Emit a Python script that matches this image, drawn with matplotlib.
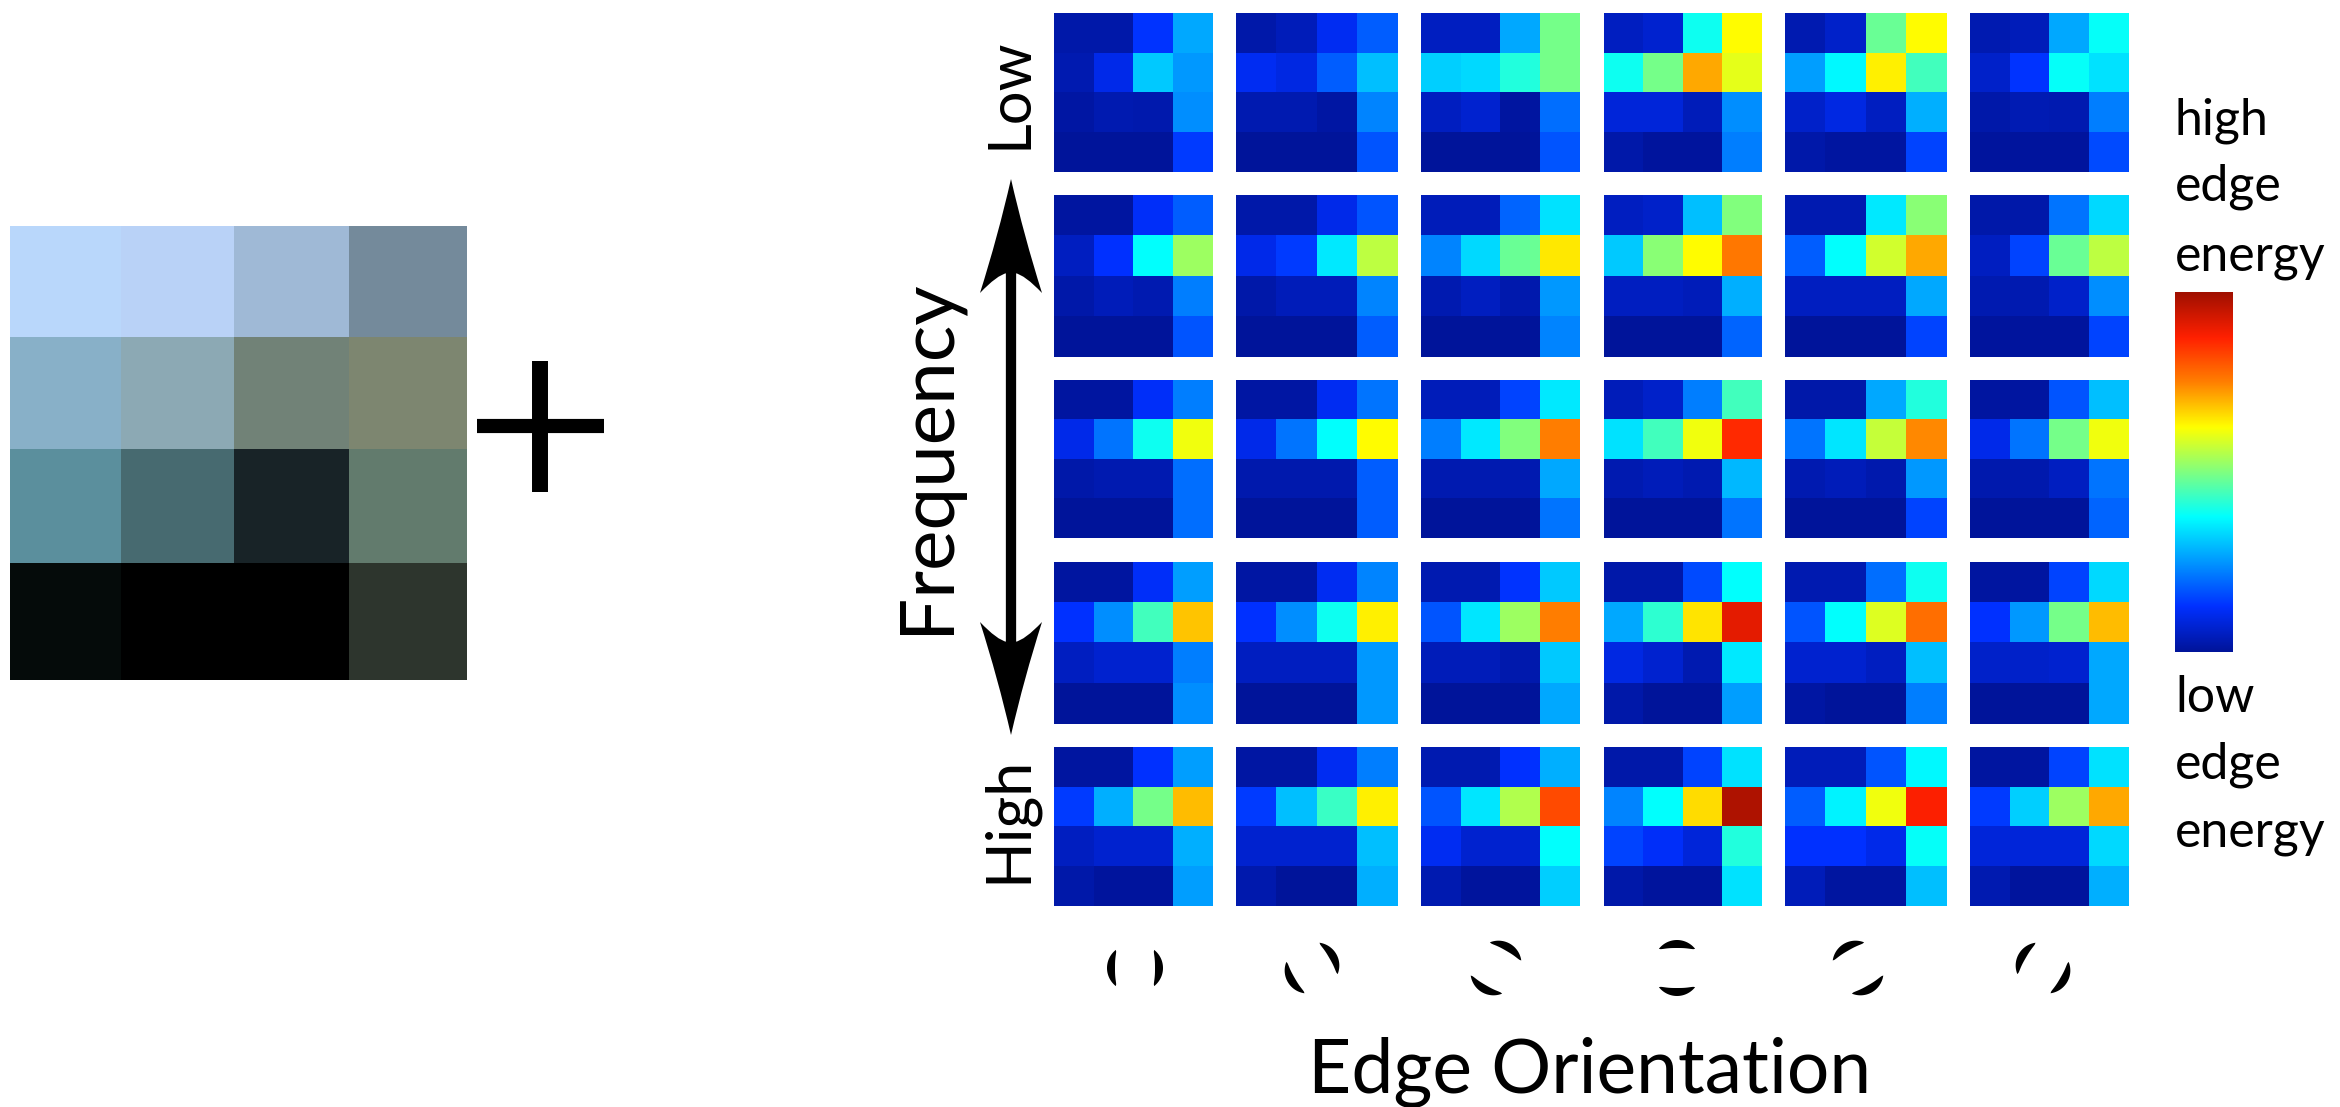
import matplotlib
matplotlib.use('Agg')
import matplotlib.pyplot as plt
import numpy as np
from matplotlib.colors import LinearSegmentedColormap, to_rgb
from matplotlib.path import Path
from matplotlib.patches import PathPatch, Polygon

plt.rcParams['font.family'] = ['Lato', 'DejaVu Sans']

W, H = 2340, 1107

# colours of the small image on the left
patch_colors = [
    ['#B9D7FB', '#B9D2F7', '#9FB9D6', '#748A9B'],
    ['#88B0C8', '#8CA9B4', '#718277', '#7D8670'],
    ['#5B8F9D', '#476A70', '#182327', '#627B6D'],
    ['#050B0A', '#000000', '#000000', '#2D352D'],
]
patch_x = [10, 121, 234, 349, 467]
patch_y = [226, 337, 449, 563, 680]

# edge energy, one 4x4 block per frequency and orientation
freq_low = [
    [[.02, .02, .13, .27], [.03, .10, .31, .25], [.015, .03, .025, .24], [0, 0, 0, .14]],
    [[.02, .04, .11, .18], [.11, .09, .18, .30], [.03, .03, .015, .23], [0, 0, 0, .17]],
    [[.05, .05, .27, .49], [.32, .33, .41, .49], [.05, .07, .01, .20], [0, 0, 0, .17]],
    [[.05, .07, .39, .625], [.39, .49, .71, .60], [.08, .08, .04, .24], [.02, .005, .005, .22]],
    [[.03, .06, .48, .625], [.26, .37, .64, .44], [.06, .09, .05, .28], [.02, .01, .01, .15]],
    [[.03, .04, .27, .38], [.06, .13, .38, .34], [.02, .035, .03, .22], [.005, .005, .005, .16]],
]
freq_midlow = [
    [[.01, .01, .12, .18], [.05, .125, .375, .53], [.02, .04, .03, .22], [0, 0, 0, .17]],
    [[.02, .02, .10, .17], [.10, .14, .35, .56], [.02, .04, .04, .23], [0, 0, 0, .18]],
    [[.04, .04, .19, .34], [.23, .33, .48, .645], [.03, .05, .025, .25], [0, 0, 0, .23]],
    [[.05, .06, .30, .50], [.31, .51, .625, .76], [.05, .05, .04, .28], [0, 0, 0, .19]],
    [[.03, .03, .35, .51], [.18, .375, .58, .71], [.05, .05, .05, .27], [0, 0, 0, .15]],
    [[.02, .02, .21, .33], [.05, .15, .48, .56], [.03, .03, .06, .24], [.005, .005, .005, .15]],
]
freq_mid = [
    [[.01, .01, .12, .22], [.10, .21, .39, .61], [.02, .03, .03, .20], [0, 0, 0, .20]],
    [[.015, .015, .11, .21], [.10, .21, .375, .625], [.025, .025, .025, .18], [0, 0, 0, .18]],
    [[.04, .04, .15, .35], [.22, .35, .50, .75], [.03, .03, .03, .27], [0, 0, 0, .21]],
    [[.04, .06, .22, .44], [.34, .44, .61, .86], [.03, .04, .03, .29], [0, 0, 0, .21]],
    [[.02, .02, .27, .41], [.21, .345, .57, .74], [.03, .04, .025, .25], [0, 0, 0, .15]],
    [[.01, .01, .17, .30], [.10, .21, .49, .61], [.025, .025, .05, .21], [0, 0, 0, .19]],
]
freq_midhigh = [
    [[.01, .01, .12, .26], [.125, .24, .44, .68], [.05, .07, .07, .22], [0, 0, 0, .24]],
    [[.015, .015, .11, .23], [.125, .24, .39, .64], [.05, .05, .05, .25], [0, 0, 0, .25]],
    [[.03, .03, .13, .31], [.17, .345, .53, .75], [.04, .04, .025, .31], [0, 0, 0, .27]],
    [[.02, .02, .16, .375], [.27, .42, .65, .91], [.09, .07, .03, .35], [.02, 0, 0, .26]],
    [[.03, .03, .20, .39], [.17, .375, .59, .77], [.07, .07, .05, .30], [.015, 0, 0, .22]],
    [[.01, .01, .15, .33], [.125, .25, .49, .69], [.06, .06, .07, .27], [0, 0, 0, .27]],
]
freq_high = [
    [[.01, .01, .125, .26], [.14, .28, .49, .69], [.05, .07, .07, .28], [.02, .005, .005, .26]],
    [[.015, .015, .11, .22], [.14, .30, .43, .64], [.07, .07, .07, .30], [.025, 0, 0, .28]],
    [[.03, .03, .125, .28], [.17, .345, .55, .82], [.11, .07, .07, .375], [.03, .005, .005, .32]],
    [[.02, .02, .15, .34], [.23, .375, .66, .98], [.15, .12, .08, .41], [.02, .005, .005, .34]],
    [[.04, .04, .17, .37], [.18, .36, .61, .875], [.125, .125, .10, .38], [.04, .01, .01, .30]],
    [[.01, .01, .15, .34], [.14, .32, .53, .71], [.08, .08, .08, .33], [.03, .005, .005, .28]],
]
freq_rows = [freq_low, freq_midlow, freq_mid, freq_midhigh, freq_high]

orientations = [0, 30, 60, 90, 120, 150]

# pixel boxes of the grid
col_edges = [(1054, 1213), (1236, 1398), (1421, 1580), (1604, 1762), (1785, 1947), (1970, 2129)]
row_edges = [(13, 172), (195, 357), (380, 538), (562, 724), (747, 906)]
icon_x = [1135, 1312, 1496, 1677, 1858, 2043]
icon_y = 968

# jet, with the blue end a bit lighter like the picture
cmap = LinearSegmentedColormap.from_list('edge_jet', [
    (0.0, '#00149A'), (0.125, '#0030FF'), (0.375, '#00FFFF'), (0.5, '#80FF80'),
    (0.625, '#FFFF00'), (0.75, '#FF8000'), (0.875, '#FF2000'), (1.0, '#A01000')])


def px_axes(fig, x0, y0, x1, y1, **kw):
    ax = fig.add_axes([x0 / W, 1 - y1 / H, (x1 - x0) / W, (y1 - y0) / H], **kw)
    ax.set_xticks([])
    ax.set_yticks([])
    for s in ax.spines.values():
        s.set_visible(False)
    return ax


def crescent(ax, cx, cy, normal, rc=23, offset=5, half_span=52, thick=8):
    # arc of radius rc, pushed out from the icon centre along the normal
    n = np.radians(normal)
    ox, oy = cx + offset * np.cos(n), cy - offset * np.sin(n)
    t = np.radians(np.linspace(-half_span, half_span, 50))
    a = n + t
    inner = rc - thick * np.cos(t / np.radians(half_span) * np.pi / 2) ** 0.6
    xs = np.concatenate([ox + rc * np.cos(a), (ox + inner * np.cos(a))[::-1]])
    ys = np.concatenate([oy - rc * np.sin(a), (oy - inner * np.sin(a))[::-1]])
    ax.add_patch(Polygon(np.column_stack([xs, ys]), closed=True, fc='black', ec='none'))


def arrow_head(ax, x, tip, notch, barb, half=31):
    mid = (tip + barb) / 2
    verts = [(x, tip), (x + 13, mid), (x + half, barb),
             (x + 14, notch + (barb - notch) * 0.1), (x + 4, notch),
             (x - 4, notch), (x - 4, notch),
             (x - 14, notch + (barb - notch) * 0.1), (x - half, barb),
             (x - 13, mid), (x, tip)]
    codes = [Path.MOVETO] + [Path.CURVE3] * 10
    ax.add_patch(PathPatch(Path(verts, codes), fc='black', ec='none'))


fig = plt.figure(figsize=(W / 100, H / 100), dpi=100)

# left image
ax = px_axes(fig, 0, 0, W, H)
ax.set_xlim(0, W)
ax.set_ylim(H, 0)
rgb = np.array([[to_rgb(c) for c in row] for row in patch_colors])
ax.pcolormesh(patch_x, patch_y, rgb)

# grid of heatmaps
for r, blocks in enumerate(freq_rows):
    for c, block in enumerate(blocks):
        ax = px_axes(fig, col_edges[c][0], row_edges[r][0], col_edges[c][1], row_edges[r][1])
        ax.imshow(np.array(block), cmap=cmap, vmin=0, vmax=1, aspect='auto', interpolation='nearest')

# colorbar
ax = px_axes(fig, 2175, 292, 2233, 652)
ax.imshow(np.linspace(1, 0, 256).reshape(-1, 1), cmap=cmap, vmin=0, vmax=1, aspect='auto')

# overlay in pixel coords for text, plus sign, arrow and icons
ov = px_axes(fig, 0, 0, W, H)
ov.set_xlim(0, W)
ov.set_ylim(H, 0)
ov.patch.set_alpha(0)
ov.set_zorder(10)

ov.plot([477, 604], [426, 426], color='black', lw=10.2, solid_capstyle='butt')
ov.plot([540, 540], [361, 492], color='black', lw=11.5, solid_capstyle='butt')

ov.plot([1011, 1011], [270, 645], color='black', lw=7.4, solid_capstyle='butt')
arrow_head(ov, 1011, 179, 273, 293)
arrow_head(ov, 1011, 735, 642, 622)

for x, ang in zip(icon_x, orientations):
    crescent(ov, x, icon_y, ang)
    crescent(ov, x, icon_y, ang + 180)

ov.text(1027, 93, 'Low', rotation=90, fontsize=43, ha='center', va='baseline', rotation_mode='anchor')
ov.text(1026, 819, 'High', rotation=90, fontsize=44, ha='center', va='baseline', rotation_mode='anchor')
ov.text(948, 456, 'Frequency', rotation=90, fontsize=55, ha='center', va='baseline', rotation_mode='anchor')
ov.text(1590, 1093, 'Edge Orientation', fontsize=54, ha='center', va='baseline')

for y, s in zip([135, 200, 270], ['high', 'edge', 'energy']):
    ov.text(2175, y, s, fontsize=36, ha='left', va='baseline')
for y, s in zip([712, 778, 846], ['low', 'edge', 'energy']):
    ov.text(2175, y, s, fontsize=36, ha='left', va='baseline')

fig.savefig('out.png', dpi=100, facecolor='white')
